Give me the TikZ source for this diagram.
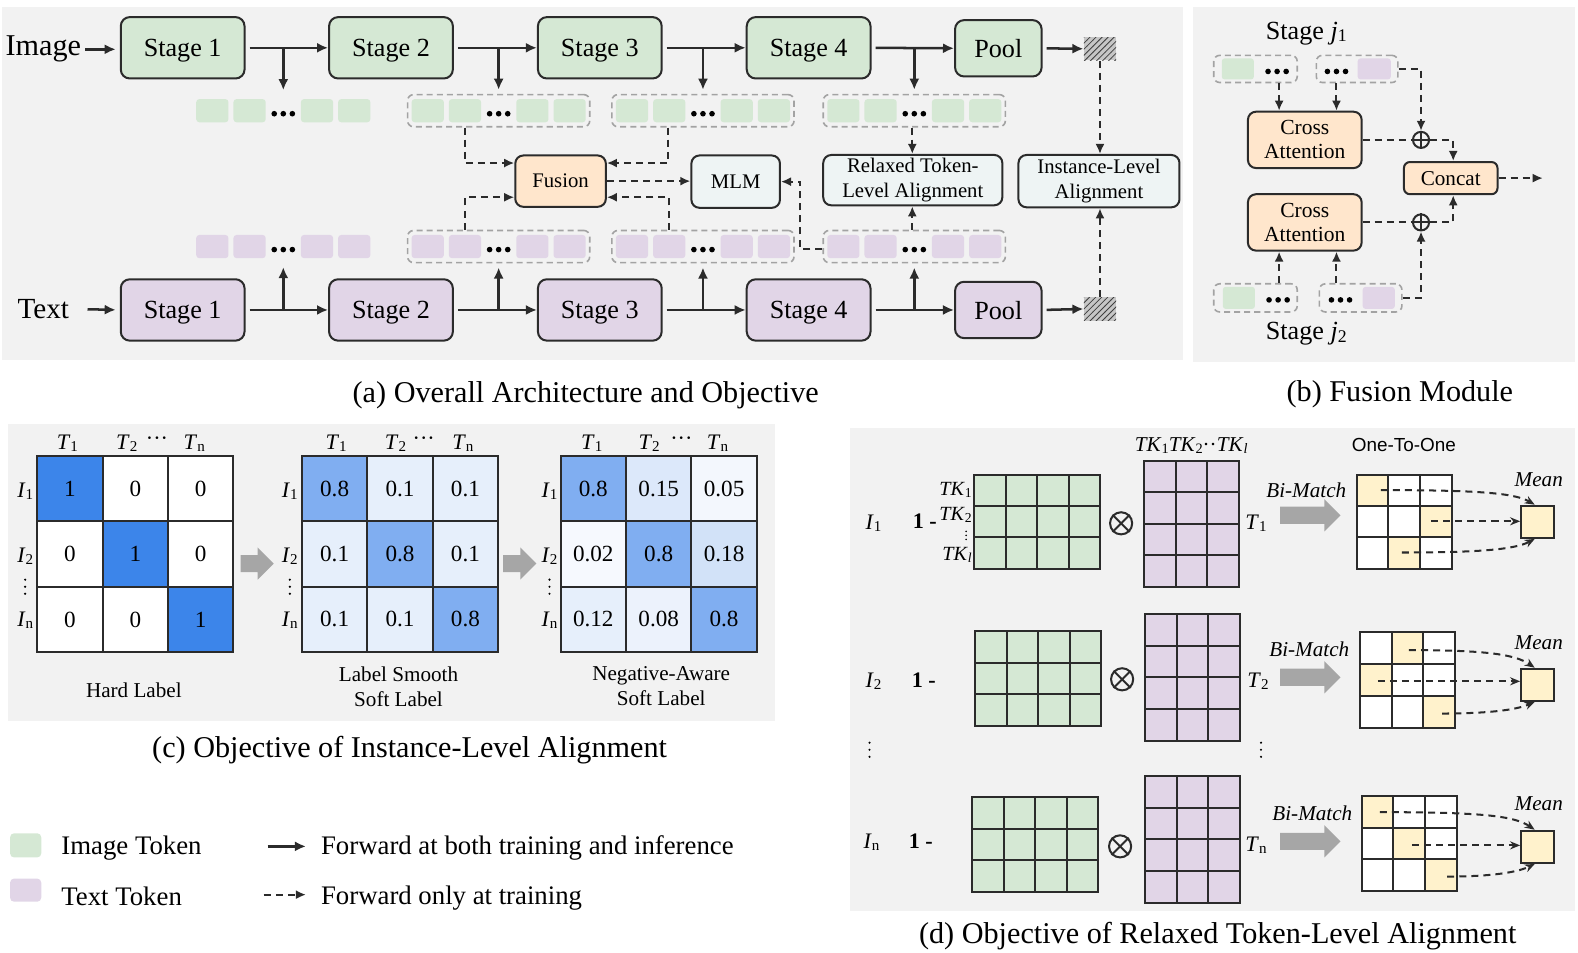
\documentclass[tikz,border=0pt]{standalone}
\usepackage{fontspec}
\setmainfont{Liberation Serif}
\newfontfamily\sansf{Liberation Sans}
\usepackage{graphicx}
\usetikzlibrary{arrows.meta,patterns,calc}
\definecolor{bgc}{HTML}{F2F2F2}
\definecolor{gfill}{HTML}{D5E8D4}
\definecolor{pfill}{HTML}{E1D5E7}
\definecolor{ofill}{HTML}{FFE6CC}
\definecolor{mfill}{HTML}{EEF4F4}
\definecolor{yfill}{HTML}{FFF2CC}
\definecolor{edge}{HTML}{2B2B2B}
\definecolor{grpc}{HTML}{A3A3A3}
\definecolor{arrg}{HTML}{A6A6A6}
\definecolor{hb}{HTML}{3C85EA}
\definecolor{mb}{HTML}{80AEF1}
\definecolor{lb}{HTML}{E6EFFB}
\definecolor{nb15}{HTML}{DCE8FA}
\definecolor{nb05}{HTML}{F3F7FD}
\definecolor{nb02}{HTML}{F6F9FE}
\definecolor{nb18}{HTML}{D2E2F8}
\definecolor{nb12}{HTML}{E6EFFB}
\definecolor{nb08}{HTML}{ECF2FC}
\newcommand\sbx[1]{\raisebox{-0.2ex}{\scalebox{0.68}{#1}}}
\newcommand\fsz[1]{\fontsize{#1}{#1}\selectfont}
\newcommand\tokg[3]{%
 \fill[#3,rounded corners=1.5pt] ({#1+4},{#2-11.5}) rectangle ({#1+36},{#2+11.5});
 \fill[#3,rounded corners=1.5pt] ({#1+41},{#2-11.5}) rectangle ({#1+73},{#2+11.5});
 \fill[#3,rounded corners=1.5pt] ({#1+108},{#2-11.5}) rectangle ({#1+140},{#2+11.5});
 \fill[#3,rounded corners=1.5pt] ({#1+145},{#2-11.5}) rectangle ({#1+177},{#2+11.5});
 \foreach \d in {-9,0,9} \fill[black] ({#1+90.5+\d},{#2+3}) circle (1.4pt);
}
\newcommand\vdt[3]{% x, y centre, spacing
 \foreach \d in {-1,0,1} \fill[black] (#1,{#2+\d*#3}) circle (0.6pt);
}
\newcommand\cmatrix[2]{%
 \foreach \c/\r/\kc/\v in {#2} {
   \fill[\kc] ({#1+\c*65},{453+\r*65}) rectangle ++(65,65);
   \node[cellt] at ({#1+\c*65+32.5},{453+\r*65+32.5}) {\v};
 }
 \foreach \i in {0,...,3} {
   \draw[gridl] ({#1+\i*65},453) -- ({#1+\i*65},648);
   \draw[gridl] (#1,{453+\i*65}) -- ({#1+195},{453+\i*65});
 }
}
\newcommand\dlines[6]{%
 \foreach \i in {0,...,#3} \draw[gridl] ({#1+\i*#5},#2) -- ({#1+\i*#5},{#2+#4*#6});
 \foreach \j in {0,...,#4} \draw[gridl] (#1,{#2+\j*#6}) -- ({#1+#3*#5},{#2+\j*#6});
}
\newcommand\dgrid[7]{%
 \fill[#7] (#1,#2) rectangle ({#1+#3*#5},{#2+#4*#6});
 \dlines{#1}{#2}{#3}{#4}{#5}{#6}
}
\newcommand\hlc[6]{\fill[yfill] ({#1+#5*#3},{#2+#6*#4}) rectangle ++(#3,#4);}
\newcommand\garrow[4]{% x0 x1 x2 yc
 \fill[arrg] (#1,{#4-8.5}) -- (#2,{#4-8.5}) -- (#2,{#4-16}) -- (#3,#4) -- (#2,{#4+16}) -- (#2,{#4+8.5}) -- (#1,{#4+8.5}) -- cycle;
}
\begin{document}
\begin{tikzpicture}[x=0.5pt,y=-0.5pt,
 stagebox/.style={draw=edge,line width=1pt,rounded corners=4.5pt,minimum width=61.5pt,minimum height=30.5pt,inner sep=0pt,text depth=0pt,font=\fsz{13}},
 gbox/.style={stagebox,fill=gfill},
 pbox/.style={stagebox,fill=pfill},
 poolbox/.style={minimum width=43pt,minimum height=28pt},
 hatch/.style={minimum width=16pt,minimum height=11.5pt,inner sep=0pt,preaction={fill=gray!45},pattern=north east lines,pattern color=black!75},
 sbox/.style={draw=edge,line width=1pt,rounded corners=4pt,inner sep=0pt,align=center,font=\fontsize{10.3}{12.5}\selectfont},
 grp/.style={draw=grpc,line width=0.8pt,dash pattern=on 3pt off 2pt,rounded corners=3pt,inner sep=0pt},
 ghost/.style={inner sep=0pt},
 arr/.style={draw=edge,line width=1.25pt,-{Latex[length=5.5pt,width=5pt]}},
 darr/.style={draw=edge,line width=1pt,dash pattern=on 3.5pt off 2.5pt,-{Latex[length=5pt,width=4.5pt]}},
 dline/.style={draw=edge,line width=1pt,dash pattern=on 3.5pt off 2.5pt},
 marr/.style={draw=edge,line width=1pt,dash pattern=on 3.5pt off 2.5pt,-{Stealth[length=5pt,width=4pt]}},
 gridl/.style={draw=edge,line width=1pt,line cap=rect},
 capt/.style={font=\fsz{15}},
 lab/.style={font=\fsz{11},inner sep=0pt},
 cellt/.style={font=\fsz{11.5},inner sep=0pt},
]
\useasboundingbox (0,0) rectangle (1568,946);
% backgrounds
\fill[bgc] (2,7) rectangle (1175,358);
\fill[bgc] (1185,7) rectangle (1565,360);
\fill[bgc] (8,421) rectangle (770,716);
\fill[bgc] (845,425) rectangle (1565,905);

% ---------------- panel (a)
\node[font=\fsz{15},inner sep=2pt] (imgl) at (43,49) {Image};
\node[font=\fsz{14.5},inner sep=2pt] (txtl) at (43,307) {Text};
\node[gbox] (s1i) at (181.5,47.5) {Stage 1};
\node[gbox] (s2i) at (388.5,47.5) {Stage 2};
\node[gbox] (s3i) at (596,47.5) {Stage 3};
\node[gbox] (s4i) at (803.5,47.5) {Stage 4};
\node[gbox,poolbox] (pi) at (992,48) {Pool};
\node[hatch] (hi) at (1093,48.5) {};
\node[pbox] (s1t) at (181.5,308) {Stage 1};
\node[pbox] (s2t) at (388.5,308) {Stage 2};
\node[pbox] (s3t) at (596,308) {Stage 3};
\node[pbox] (s4t) at (803.5,308) {Stage 4};
\node[pbox,poolbox] (pt) at (992,308) {Pool};
\node[hatch] (ht) at (1093,307) {};

% token groups
\tokg{191}{110}{gfill}
\tokg{405}{110}{gfill}
\tokg{608}{110}{gfill}
\tokg{818}{110}{gfill}
\tokg{191}{245}{pfill}
\tokg{405}{245}{pfill}
\tokg{608}{245}{pfill}
\tokg{818}{245}{pfill}
\node[ghost,minimum width=90.5pt,minimum height=16pt] (g1i) at (281.5,110) {};
\node[grp,minimum width=90.5pt,minimum height=16pt] (g2i) at (495.5,110) {};
\node[grp,minimum width=90.5pt,minimum height=16pt] (g3i) at (698.5,110) {};
\node[grp,minimum width=90.5pt,minimum height=16pt] (g4i) at (908.5,110) {};
\node[ghost,minimum width=90.5pt,minimum height=16pt] (g1t) at (281.5,245) {};
\node[grp,minimum width=90.5pt,minimum height=16pt] (g2t) at (495.5,245) {};
\node[grp,minimum width=90.5pt,minimum height=16pt] (g3t) at (698.5,245) {};
\node[grp,minimum width=90.5pt,minimum height=16pt] (g4t) at (908.5,245) {};

\node[sbox,fill=ofill,minimum width=45pt,minimum height=25.5pt] (fus) at (557,180) {Fusion};
\node[sbox,fill=mfill,minimum width=44pt,minimum height=26pt] (mlm) at (731,180.5) {MLM};
\node[sbox,fill=mfill,minimum width=89pt,minimum height=25pt] (rta) at (907,179) {Relaxed Token-\\Level Alignment};
\node[sbox,fill=mfill,minimum width=80pt,minimum height=26pt] (ila) at (1092,180) {Instance-Level\\Alignment};

% main arrows
\draw[arr,shorten >=2pt] (imgl.east) -- (imgl.east -| s1i.west);
\draw[arr,shorten <=7pt,shorten >=2pt] (txtl.east) -- (s1t.west);
\foreach \a/\b in {s1i/s2i,s2i/s3i,s3i/s4i,s4i/pi,pi/hi,s1t/s2t,s2t/s3t,s3t/s4t,s4t/pt,pt/ht}
  \draw[arr,shorten <=2pt] (\a.east) -- (\b.west);
\foreach \g/\s in {g1i/s1i,g2i/s2i,g3i/s3i,g4i/s4i}
  \draw[arr] (\g.north |- \s.east) -- ([yshift=2pt]\g.north);
\foreach \g/\s in {g1t/s1t,g2t/s2t,g3t/s3t,g4t/s4t}
  \draw[arr] (\g.south |- \s.east) -- ([yshift=-2pt]\g.south);

% dashed connections
\draw[darr] ([xshift=-16.75pt]g2i.south) |- ([yshift=9pt]fus.west);
\draw[darr] ([xshift=-17.5pt]g3i.south) |- ([yshift=9pt]fus.east);
\draw[darr] ([xshift=-16.75pt]g2t.north) |- ([yshift=-8pt]fus.west);
\draw[darr] ([xshift=-16.75pt]g3t.north) |- ([yshift=-8pt]fus.east);
\draw[darr] (fus.east) -- (fus.east -| mlm.west);
\draw[darr] ([yshift=-1pt]g4t.west) -- ++(-11pt,0) |- (mlm.east);
\draw[darr] ([xshift=-1pt]g4i.south) -- ([xshift=-1pt]g4i.south |- rta.north);
\draw[darr] ([xshift=-1pt]g4t.north) -- ([xshift=-1pt]g4t.north |- rta.south);
\draw[darr] (hi.south) -- (hi.south |- ila.north);
\draw[darr] (ht.north) -- (ht.north |- ila.south);

\node[capt] (capa) at (582,393) {(a) Overall Architecture and Objective};

% ---------------- panel (b)
\node[font=\fsz{13},inner sep=0pt] (sj1) at (1298,33) {Stage \textit{j}\sbx{1}};
\node[font=\fsz{13},inner sep=0pt] (sj2) at (1298,332) {Stage \textit{j}\sbx{2}};
\fill[gfill,rounded corners=1.5pt] (1214,58) rectangle (1246,79);
\foreach \d in {-9,0,9} \fill[black] ({1269+\d},71) circle (1.4pt);
\foreach \d in {-9,0,9} \fill[black] ({1328+\d},71) circle (1.4pt);
\fill[pfill,rounded corners=1.5pt] (1349,58) rectangle (1382,79);
\fill[gfill,rounded corners=1.5pt] (1215,285) rectangle (1247,307);
\foreach \d in {-9,0,9} \fill[black] ({1270+\d},298) circle (1.4pt);
\foreach \d in {-9,0,9} \fill[black] ({1332+\d},298) circle (1.4pt);
\fill[pfill,rounded corners=1.5pt] (1354,285) rectangle (1386,307);
\node[grp,minimum width=41.5pt,minimum height=13.5pt] (tl) at (1247.5,68.5) {};
\node[grp,minimum width=40.5pt,minimum height=13.5pt] (tr) at (1348.5,68.5) {};
\node[grp,minimum width=41.5pt,minimum height=14pt] (bl) at (1247.5,296) {};
\node[grp,minimum width=41pt,minimum height=14pt] (br) at (1352,296) {};
\node[sbox,fill=ofill,minimum width=56.5pt,minimum height=28pt,font=\fontsize{10.7}{12}\selectfont] (ca1) at (1296.5,139) {Cross\\Attention};
\node[sbox,fill=ofill,minimum width=56.5pt,minimum height=28pt,font=\fontsize{10.7}{12}\selectfont] (ca2) at (1296.5,221) {Cross\\Attention};
\node[sbox,fill=ofill,minimum width=46.5pt,minimum height=16pt,font=\fsz{10.5},rounded corners=3pt] (cc) at (1441.5,177) {Concat};
\node[circle,draw=edge,line width=1pt,minimum size=8pt,inner sep=0pt] (op1) at (1412,139) {};
\node[circle,draw=edge,line width=1pt,minimum size=8pt,inner sep=0pt] (op2) at (1412,221) {};
\draw[edge,line width=1pt] (op1.north) -- (op1.south) (op1.west) -- (op1.east);
\draw[edge,line width=1pt] (op2.north) -- (op2.south) (op2.west) -- (op2.east);
\draw[darr] ([xshift=11.75pt]tl.south) -- ([xshift=11.75pt]tl.south |- ca1.north);
\draw[darr] ([xshift=-10.25pt]tr.south) -- ([xshift=-10.25pt]tr.south |- ca1.north);
\draw[darr] ([xshift=11.75pt]bl.north) -- ([xshift=11.75pt]bl.north |- ca2.south);
\draw[darr] ([xshift=-12pt]br.north) -- ([xshift=-12pt]br.north |- ca2.south);
\draw[darr] (tr.east) -| (op1.north);
\draw[darr] (br.east) -| (op2.south);
\draw[dline] (ca1.east) -- (op1.west);
\draw[dline] (ca2.east) -- (op2.west);
\draw[darr] (op1.east) -| ([xshift=1.25pt]cc.north);
\draw[darr] (op2.east) -| ([xshift=1.25pt]cc.south);
\coordinate (ccout) at (1533,177);
\draw[darr] (cc.east) -- (ccout);
\node[capt] (capb) at (1391,392) {(b) Fusion Module};

% ---------------- panel (c)
\cmatrix{37}{0/0/hb/1,1/0/white/0,2/0/white/0,0/1/white/0,1/1/hb/1,2/1/white/0,0/2/white/0,1/2/white/0,2/2/hb/1}
\cmatrix{300}{0/0/mb/0.8,1/0/lb/0.1,2/0/lb/0.1,0/1/lb/0.1,1/1/mb/0.8,2/1/lb/0.1,0/2/lb/0.1,1/2/lb/0.1,2/2/mb/0.8}
\cmatrix{557}{0/0/mb/0.8,1/0/nb15/0.15,2/0/nb05/0.05,0/1/nb02/0.02,1/1/mb/0.8,2/1/nb18/0.18,0/2/nb12/0.12,1/2/nb08/0.08,2/2/mb/0.8}
\foreach \a/\b/\c/\d/\r [count=\k] in {67/126/156/193/25, 334/393/421/460/288, 588/645/677/713/546} {
  \node[lab] (ct1\k) at (\a,440) {\textit{T}\sbx{1}};
  \node[lab] (ct2\k) at (\b,440) {\textit{T}\sbx{2}};
  \node[lab] (ctd\k) at (\c,438) {···};
  \node[lab] (ctn\k) at (\d,440) {\textit{T}\sbx{n}};
  \node[lab] (ci1\k) at (\r,488) {\textit{I}\sbx{1}};
  \node[lab] (ci2\k) at (\r,553) {\textit{I}\sbx{2}};
  \vdt{\r}{583}{7}
  \node[lab] (cin\k) at (\r,616) {\textit{I}\sbx{n}};
}
\garrow{239}{256}{272}{560}
\garrow{500}{517}{533}{560}
\node[font=\fsz{10.5},inner sep=0pt] (hl) at (133,686) {Hard Label};
\node[font=\fontsize{10.5}{12.5}\selectfont,inner sep=0pt,align=center] (ls) at (396,682) {Label Smooth\\Soft Label};
\node[font=\fontsize{10.5}{12.5}\selectfont,inner sep=0pt,align=center] (na) at (657,682) {Negative-Aware\\Soft Label};
\node[capt] (capc) at (407,745) {(c) Objective of Instance-Level Alignment};

% ---------------- legend
\fill[gfill,rounded corners=2pt] (10,828) rectangle (41,852);
\fill[pfill,rounded corners=2pt] (10,873) rectangle (41,896);
\node[anchor=west,font=\fsz{13.3}] (lt1) at (54,843) {Image Token};
\node[anchor=west,font=\fsz{13.3}] (lt2) at (54,891) {Text Token};
\coordinate (la1) at (266,841); \coordinate (la2) at (304,841);
\coordinate (lb1) at (262,889); \coordinate (lb2) at (304,889);
\draw[arr] (la1) -- (la2);
\draw[darr] (lb1) -- (lb2);
\node[anchor=west,font=\fsz{13.3}] (lt3) at (312,843) {Forward at both training and inference};
\node[anchor=west,font=\fsz{13.3}] (lt4) at (312,892) {Forward only at training};

% ---------------- panel (d)
\node[lab,font=\fsz{10.5},anchor=east] (tkh) at (1240,443) {\textit{TK}\sbx{1}\textit{TK}\sbx{2}··\textit{TK}\sbx{\textit{l}}};
\node[font=\sansf\fsz{9.4},inner sep=0pt] (oto) at (1395,442) {One-To-One};
% row 1
\dgrid{968}{472}{4}{3}{31.25}{31}{gfill}
\dgrid{1137}{458}{3}{4}{31.33}{31.25}{pfill}
\dgrid{1348}{472}{3}{3}{31.67}{31}{white}
\hlc{1348}{472}{31.67}{31}{0}{0}\hlc{1348}{472}{31.67}{31}{2}{1}\hlc{1348}{472}{31.67}{31}{1}{2}
\dlines{1348}{472}{3}{3}{31.67}{31}
\node[lab] (di1) at (868,520) {\textit{I}\sbx{1}};
\node[lab,font=\bfseries\fsz{11}] (om1) at (919,518) {1 -};
\node[lab,font=\fsz{10},anchor=east] (tka) at (966,487) {\textit{TK}\sbx{1}};
\node[lab,font=\fsz{10},anchor=east] (tkb) at (966,512) {\textit{TK}\sbx{2}};
\foreach \d in {-1,0,1} \fill[black] (960,{532+\d*4}) circle (0.45pt);
\node[lab,font=\fsz{10},anchor=east] (tkc) at (966,551) {\textit{TK}\sbx{\textit{l}}};
\node[circle,draw=edge,line width=1pt,minimum size=11pt,inner sep=0pt] (ot1) at (1114,520) {};
\draw[edge,line width=1pt] (ot1.north east) -- (ot1.south west) (ot1.north west) -- (ot1.south east);
\node[lab] (dt1) at (1248,520) {\textit{T}\sbx{1}};
\node[lab,font=\itshape\fsz{10.5}] (bm1) at (1298,487) {Bi-Match};
\garrow{1272}{1316}{1332}{512}
\node[lab,font=\itshape\fsz{10.5}] (mn1) at (1529,477) {Mean};
\node[draw=edge,fill=yfill,line width=1pt,minimum width=16.5pt,minimum height=16pt,inner sep=0pt] (m1) at (1528,518.5) {};
\coordinate (r1a) at (1372,487); \coordinate (r1b) at (1422,518); \coordinate (r1c) at (1393,549);
\draw[marr] (r1a) .. controls (1470,487) and (1505,490) .. ([xshift=-1.5pt]m1.north);
\draw[marr] (r1b) -- (r1b -| m1.west);
\draw[marr] (r1c) .. controls (1470,549) and (1505,546) .. ([xshift=-1.5pt]m1.south);
% row 2
\dgrid{969}{627}{4}{3}{31.25}{31.33}{gfill}
\dgrid{1138}{610}{3}{4}{31.33}{31.5}{pfill}
\dgrid{1351}{628}{3}{3}{31.67}{31.67}{white}
\hlc{1351}{628}{31.67}{31.67}{1}{0}\hlc{1351}{628}{31.67}{31.67}{0}{1}\hlc{1351}{628}{31.67}{31.67}{2}{2}
\dlines{1351}{628}{3}{3}{31.67}{31.67}
\node[lab] (di2) at (868,677) {\textit{I}\sbx{2}};
\node[lab,font=\bfseries\fsz{11}] (om2) at (918,676) {1 -};
\node[circle,draw=edge,line width=1pt,minimum size=11pt,inner sep=0pt] (ot2) at (1115,675) {};
\draw[edge,line width=1pt] (ot2.north east) -- (ot2.south west) (ot2.north west) -- (ot2.south east);
\node[lab] (dt2) at (1250,677) {\textit{T}\sbx{2}};
\node[lab,font=\itshape\fsz{10.5}] (bm2) at (1301,645) {Bi-Match};
\garrow{1272}{1316}{1332}{673}
\node[lab,font=\itshape\fsz{10.5}] (mn2) at (1529,639) {Mean};
\node[draw=edge,fill=yfill,line width=1pt,minimum width=16.5pt,minimum height=16pt,inner sep=0pt] (m2) at (1528,680.5) {};
\coordinate (r2a) at (1400,646); \coordinate (r2b) at (1369,677); \coordinate (r2c) at (1433,709);
\draw[marr] (r2a) .. controls (1475,646) and (1505,650) .. ([xshift=-1.5pt]m2.north);
\draw[marr] (r2b) -- (r2b -| m2.west);
\draw[marr] (r2c) .. controls (1475,709) and (1505,706) .. ([xshift=-1.5pt]m2.south);
\vdt{864}{745}{7}
\vdt{1253}{745}{7}
% row 3
\dgrid{966}{792}{4}{3}{31.25}{31.33}{gfill}
\dgrid{1138}{771}{3}{4}{31.33}{31.5}{pfill}
\dgrid{1353}{791}{3}{3}{31.5}{31.33}{white}
\hlc{1353}{791}{31.5}{31.33}{0}{0}\hlc{1353}{791}{31.5}{31.33}{1}{1}\hlc{1353}{791}{31.5}{31.33}{2}{2}
\dlines{1353}{791}{3}{3}{31.5}{31.33}
\node[lab] (din) at (866,837) {\textit{I}\sbx{n}};
\node[lab,font=\bfseries\fsz{11}] (om3) at (915,836) {1 -};
\node[circle,draw=edge,line width=1pt,minimum size=11pt,inner sep=0pt] (ot3) at (1113,841) {};
\draw[edge,line width=1pt] (ot3.north east) -- (ot3.south west) (ot3.north west) -- (ot3.south east);
\node[lab] (dtn) at (1248,840) {\textit{T}\sbx{n}};
\node[lab,font=\itshape\fsz{10.5}] (bm3) at (1304,808) {Bi-Match};
\garrow{1272}{1316}{1332}{836}
\node[lab,font=\itshape\fsz{10.5}] (mn3) at (1529,799) {Mean};
\node[draw=edge,fill=yfill,line width=1pt,minimum width=16.5pt,minimum height=16pt,inner sep=0pt] (m3) at (1528,841.5) {};
\coordinate (r3a) at (1371,807); \coordinate (r3b) at (1403,840); \coordinate (r3c) at (1438,871);
\draw[marr] (r3a) .. controls (1475,807) and (1505,811) .. ([xshift=-1.5pt]m3.north);
\draw[marr] (r3b) -- (r3b -| m3.west);
\draw[marr] (r3c) .. controls (1475,871) and (1505,868) .. ([xshift=-1.5pt]m3.south);
\node[capt] (capd) at (1210,930) {(d) Objective of Relaxed Token-Level Alignment};
\end{tikzpicture}
\end{document}
